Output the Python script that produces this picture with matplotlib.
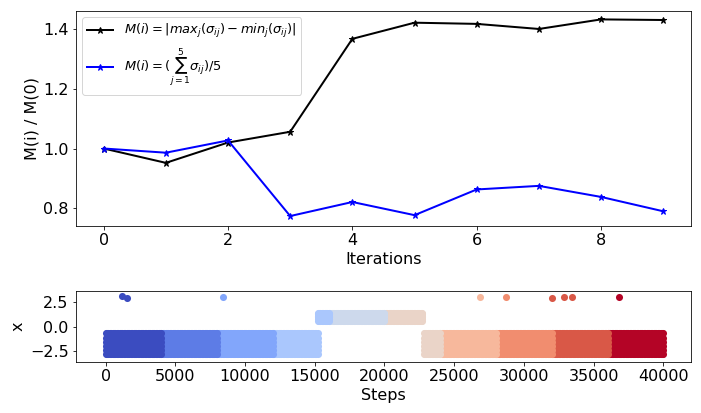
import matplotlib
matplotlib.use("Agg")
import matplotlib.pyplot as plt
import numpy as np

# ---- top panel: ratio per iteration ----
iterations = np.arange(10)
m_range = [1.000, 0.952, 1.020, 1.056, 1.367, 1.421, 1.417, 1.400, 1.432, 1.430]
m_mean = [1.000, 0.986, 1.027, 0.774, 0.821, 0.777, 0.863, 0.875, 0.838, 0.790]

# ---- bottom panel: sampled x over steps (bands of dense points) ----
# each band: color index, first step, last step, lowest x, highest x
band_color = [0, 1, 2, 3, 3, 4, 5, 5, 6, 7, 8, 9]
band_start = [0, 4000, 8000, 12000, 15200, 16000, 20000, 22800, 24000, 28000, 32000, 36000]
band_end = [4000, 8000, 12000, 15200, 16000, 20000, 22700, 24000, 28000, 32000, 36000, 40000]
band_low = [-2.85, -2.85, -2.85, -2.85, 0.62, 0.62, 0.62, -2.85, -2.85, -2.85, -2.85, -2.85]
band_high = [-0.7, -0.7, -0.7, -0.7, 1.45, 1.45, 1.45, -0.7, -0.7, -0.7, -0.7, -0.7]

# isolated samples near the top
out_steps = [1170, 1550, 8450, 26880, 28740, 32020, 32880, 33450, 36800]
out_x = [3.12, 3.0, 3.1, 3.1, 3.1, 3.0, 3.1, 3.1, 3.1]
out_color = [0, 0, 2, 6, 7, 8, 8, 8, 9]

plt.rcParams['font.size'] = 16
cmap = plt.get_cmap('coolwarm')
ncol = 10

fig = plt.figure(figsize=(701 / 72, 413 / 72), dpi=72)
ax1 = fig.add_axes([0.108, 0.453, 0.878, 0.521])
ax2 = fig.add_axes([0.108, 0.124, 0.878, 0.172])

ax1.plot(iterations, m_range, color='black', marker='*', lw=2, ms=7,
         label=r'$M(i) = |max_j(\sigma_{ij}) - min_j(\sigma_{ij})|$')
ax1.plot(iterations, m_mean, color='blue', marker='*', lw=2, ms=7,
         label=r'$M(i) = (\sum_{j=1}^{5}\sigma_{ij})/5$')
ax1.set_ylim(0.741, 1.461)
ax1.set_xlabel('Iterations')
ax1.set_ylabel('M(i) / M(0)')
ax1.legend(loc='upper left', fontsize=13)

# draw later bands first so earlier ones sit on top
for k in reversed(range(len(band_color))):
    s = np.arange(band_start[k], band_end[k] + 1, 100)
    rows = np.linspace(band_low[k], band_high[k], 6)
    ss, xx = np.meshgrid(s, rows)
    ax2.scatter(ss.ravel(), xx.ravel(), s=50, color=cmap(band_color[k] / (ncol - 1)),
                linewidths=0)
for st, xv, c in zip(out_steps, out_x, out_color):
    ax2.scatter(st, xv, s=50, color=cmap(c / (ncol - 1)), linewidths=0)

ax2.set_xlim(-2150, 42000)
ax2.set_ylim(-3.63, 3.7)
ax2.set_yticks([2.5, 0.0, -2.5])
ax2.set_xlabel('Steps')
ax2.set_ylabel('x')

fig.savefig('out.png', dpi=72)
